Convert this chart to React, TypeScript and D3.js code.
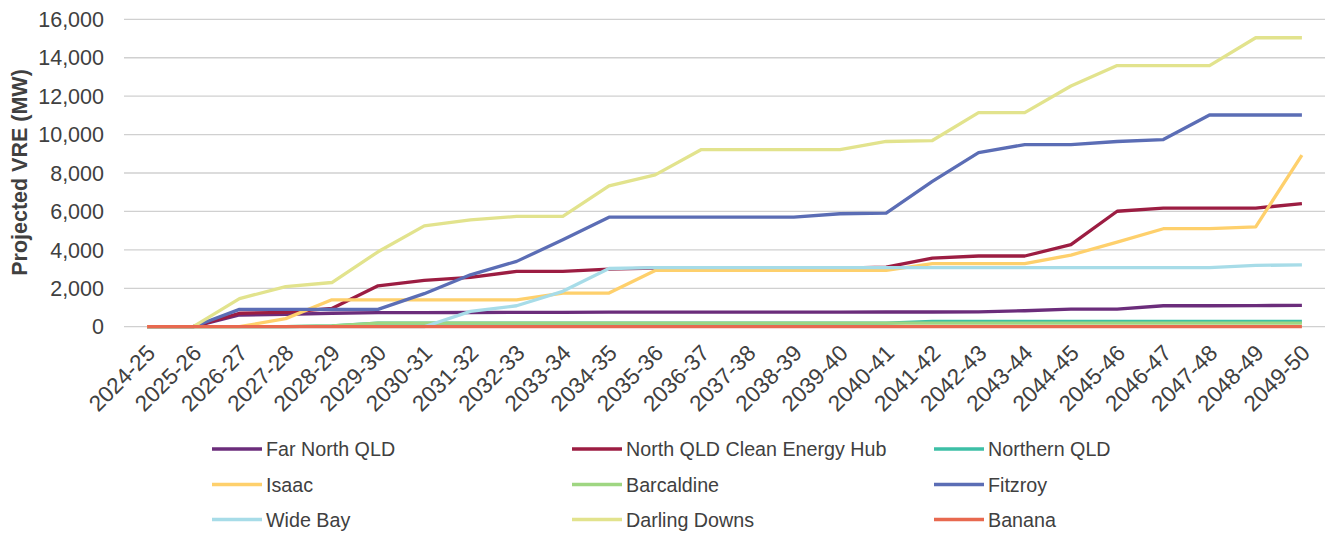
import { useEffect, useRef } from "react";
import * as d3 from "d3";

const years = [
  "2024-25", "2025-26", "2026-27", "2027-28", "2028-29", "2029-30", "2030-31",
  "2031-32", "2032-33", "2033-34", "2034-35", "2035-36", "2036-37", "2037-38",
  "2038-39", "2039-40", "2040-41", "2041-42", "2042-43", "2043-44", "2044-45",
  "2045-46", "2046-47", "2047-48", "2048-49", "2049-50"
];

const farNorthQld = [0, 0, 610, 645, 700, 730, 735, 740, 745, 750, 755, 755, 755, 755, 760, 760, 765, 765, 775, 830, 920, 920, 1090, 1090, 1100, 1110];
const northQldHub = [0, 0, 700, 750, 950, 2130, 2410, 2570, 2880, 2880, 3000, 3050, 3050, 3050, 3050, 3050, 3100, 3570, 3680, 3680, 4270, 6010, 6170, 6170, 6170, 6410];
const northernQld = [0, 0, 0, 0, 40, 190, 190, 190, 190, 190, 190, 190, 190, 190, 190, 190, 190, 280, 280, 280, 280, 280, 280, 280, 280, 280];
const isaac = [0, 0, 0, 420, 1400, 1400, 1400, 1400, 1400, 1750, 1750, 2930, 2930, 2930, 2930, 2930, 2930, 3280, 3280, 3280, 3730, 4400, 5100, 5100, 5200, 8930];
const barcaldine = [0, 0, 0, 0, 40, 190, 190, 190, 190, 190, 190, 190, 190, 190, 190, 190, 190, 190, 190, 190, 190, 190, 190, 190, 190, 190];
const fitzroy = [0, 0, 900, 900, 900, 900, 1720, 2700, 3400, 4520, 5700, 5700, 5700, 5700, 5700, 5880, 5910, 7560, 9060, 9480, 9480, 9640, 9740, 11020, 11020, 11020];
const wideBay = [0, 0, 0, 0, 0, 0, 0, 800, 1090, 1840, 3030, 3080, 3080, 3080, 3080, 3080, 3080, 3080, 3080, 3080, 3080, 3080, 3080, 3080, 3190, 3220];
const darlingDowns = [0, 0, 1460, 2090, 2300, 3900, 5250, 5560, 5740, 5740, 7330, 7900, 9220, 9220, 9220, 9220, 9640, 9690, 11140, 11140, 12530, 13590, 13590, 13590, 15040, 15040];
const banana = [0, 0, 0, 0, 0, 0, 0, 0, 0, 0, 0, 0, 0, 0, 0, 0, 0, 0, 0, 0, 0, 0, 0, 0, 0, 0];

const yTicks = [0, 2000, 4000, 6000, 8000, 10000, 12000, 14000, 16000];

const series = [
  { name: "Far North QLD", values: farNorthQld, color: "#6b2d7b" },
  { name: "North QLD Clean Energy Hub", values: northQldHub, color: "#9c1d42" },
  { name: "Northern QLD", values: northernQld, color: "#3dbfa6" },
  { name: "Isaac", values: isaac, color: "#fed06c" },
  { name: "Barcaldine", values: barcaldine, color: "#9fd682" },
  { name: "Fitzroy", values: fitzroy, color: "#5b6db5" },
  { name: "Wide Bay", values: wideBay, color: "#a7dce8" },
  { name: "Darling Downs", values: darlingDowns, color: "#e2e38d" },
  { name: "Banana", values: banana, color: "#e8694f" }
];

const App = () => {
  const svgRef = useRef<SVGSVGElement | null>(null);

  useEffect(() => {
    const svg = d3.select(svgRef.current);
    svg.selectAll("*").remove();

    const width = 1327;
    const height = 533;
    const plot = { left: 124, right: 1325, top: 19.3, bottom: 326.7 };
    const font = "'Liberation Sans', Arial, sans-serif";
    const textColor = "#404040";

    svg.attr("width", width).attr("height", height);

    const x = d3.scaleBand<string>()
      .domain(years)
      .range([plot.left, plot.right]);
    const cx = (d: string) => (x(d) ?? 0) + x.bandwidth() / 2;

    const y = d3.scaleLinear()
      .domain([0, 16000])
      .range([plot.bottom, plot.top]);

    // gridlines
    svg.append("g")
      .selectAll("line")
      .data(yTicks)
      .enter()
      .append("line")
      .attr("x1", plot.left)
      .attr("x2", plot.right)
      .attr("y1", d => y(d))
      .attr("y2", d => y(d))
      .attr("stroke", "#d0d0d0")
      .attr("stroke-width", 1.3);

    // y tick labels
    svg.append("g")
      .selectAll("text")
      .data(yTicks)
      .enter()
      .append("text")
      .attr("x", 104)
      .attr("y", d => y(d))
      .attr("dy", "0.36em")
      .attr("text-anchor", "end")
      .attr("font-family", font)
      .attr("font-size", "21.5px")
      .attr("fill", textColor)
      .text(d => d3.format(",")(d));

    // y title
    svg.append("text")
      .attr("transform", `translate(19, 172.5) rotate(-90)`)
      .attr("dy", "0.36em")
      .attr("text-anchor", "middle")
      .attr("font-family", font)
      .attr("font-size", "21.5px")
      .attr("font-weight", "bold")
      .attr("fill", textColor)
      .text("Projected VRE (MW)");

    // x labels
    svg.append("g")
      .selectAll("text")
      .data(years)
      .enter()
      .append("text")
      .attr("transform", d => `translate(${cx(d) - 2}, 343) rotate(-45)`)
      .attr("dy", "0.72em")
      .attr("text-anchor", "end")
      .attr("font-family", font)
      .attr("font-size", "22.5px")
      .attr("fill", textColor)
      .text(d => d);

    // lines
    const line = d3.line<number>()
      .x((_, i) => cx(years[i]))
      .y(d => y(d));

    svg.append("g")
      .selectAll("path")
      .data(series)
      .enter()
      .append("path")
      .attr("d", d => line(d.values))
      .attr("fill", "none")
      .attr("stroke", d => d.color)
      .attr("stroke-width", 3.3)
      .attr("stroke-linejoin", "round");

    // legend
    const colX = [266, 626, 988];
    const rowY = [449, 484.5, 519.5];
    const legend = svg.append("g")
      .selectAll("g")
      .data(series)
      .enter()
      .append("g")
      .attr("transform", (_, i) => `translate(${colX[i % 3]}, ${rowY[Math.floor(i / 3)]})`);

    legend.append("line")
      .attr("x1", -54)
      .attr("x2", -4)
      .attr("stroke", d => d.color)
      .attr("stroke-width", 3.5);

    legend.append("text")
      .attr("dy", "0.36em")
      .attr("font-family", font)
      .attr("font-size", "19.7px")
      .attr("fill", textColor)
      .text(d => d.name);
  }, []);

  return (
    <svg ref={svgRef} style={{ position: "absolute", left: 0, top: 0 }}></svg>
  );
};

export default App;
